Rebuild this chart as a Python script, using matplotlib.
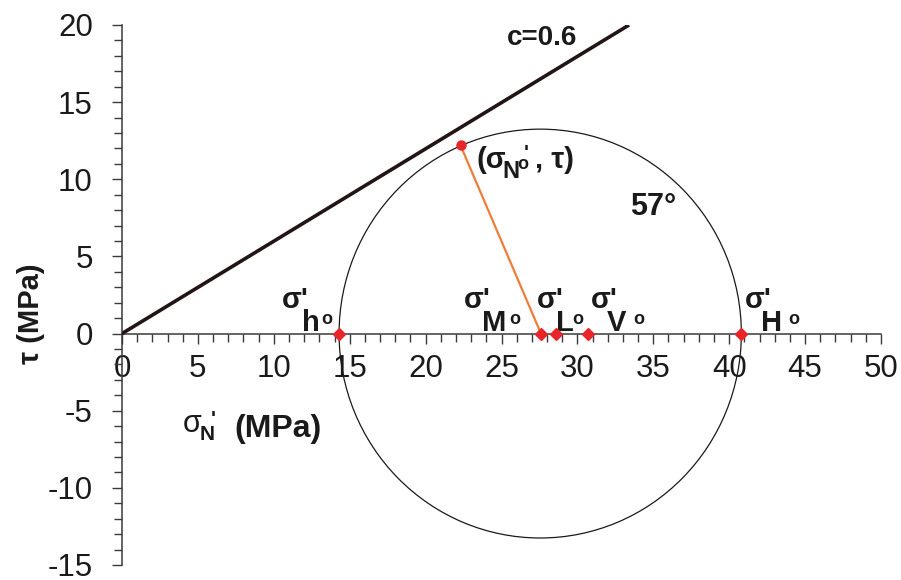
import matplotlib
matplotlib.use("Agg")
import matplotlib.pyplot as plt
from matplotlib.patches import Circle
from matplotlib.ticker import MultipleLocator

plt.rcParams['font.family'] = ['Liberation Sans', 'DejaVu Sans']
plt.rcParams['axes.unicode_minus'] = False

# ---- data ----
stress_names = ['h', 'M', 'L', 'V', 'H']
stress_values = [14.3, 27.6, 28.6, 30.7, 40.8]      # sigma' (MPa) on the tau = 0 axis
point_sigma = 22.3                                   # sigma'_N (MPa)
point_tau = 12.2                                     # tau (MPa)
friction_x = [0.0, 33.4]                             # c = 0.6 line
friction_y = [0.0, 20.0]
friction_label = 'c=0.6'
angle_label = '57°'
x_ticks = [0, 5, 10, 15, 20, 25, 30, 35, 40, 45, 50]
y_ticks = [-15, -10, -5, 0, 5, 10, 15, 20]

sigma_min = stress_values[0]
sigma_max = stress_values[-1]
sigma_mid = stress_values[1]

fig = plt.figure(figsize=(9.01, 5.80), dpi=100)
ax = fig.add_axes([122 / 901, 1 - 565 / 580, (881 - 122) / 901, (565 - 25) / 580])
ax.set_xlim(0, 50)
ax.set_ylim(-15, 20)

spine_col = '#3a3a3a'
for s in ['top', 'right']:
    ax.spines[s].set_visible(False)
ax.spines['left'].set_position(('data', 0))
ax.spines['bottom'].set_position(('data', 0))
for s in ['left', 'bottom']:
    ax.spines[s].set_linewidth(1.1)
    ax.spines[s].set_color(spine_col)

ax.set_xticks(x_ticks)
ax.set_yticks(y_ticks)
ax.xaxis.set_minor_locator(MultipleLocator(1))
ax.yaxis.set_minor_locator(MultipleLocator(1))
ax.tick_params(axis='both', which='major', direction='out', length=7.5, width=1.0,
               color=spine_col, labelsize=22.5, labelcolor='#1a1a1a')
ax.tick_params(axis='both', which='minor', direction='out', length=5.5, width=1.0,
               color=spine_col)
ax.tick_params(axis='y', which='major', pad=13.5)
ax.tick_params(axis='x', which='major', pad=7)

# friction line
ax.plot(friction_x, friction_y, color='#231416', lw=2.6, solid_capstyle='butt', zorder=3)

# Mohr circle
circ = Circle(((sigma_min + sigma_max) / 2, 0), (sigma_max - sigma_min) / 2,
              fill=False, ec='#1a1a1a', lw=0.9, zorder=2)
ax.add_patch(circ)

# orange radius line
ax.plot([point_sigma, sigma_mid], [point_tau, 0], color='#f07c3a', lw=1.6, zorder=3)

# markers
ax.plot(stress_values, [0] * len(stress_values), ls='none', marker='D', ms=6.5,
        color='#e8262a', mec='#e8262a', zorder=5, clip_on=False)
ax.plot([point_sigma], [point_tau], ls='none', marker='o', ms=6.5,
        color='#e8262a', mec='#e8262a', zorder=5)

PX = 0.72  # points per pixel
txt_col = '#1a1a1a'

# labels for the axis points: (sigma' dx, sub dx, o dx) in pixels relative to marker
label_offsets = {
    'h': (-57, -37, -18),
    'M': (-77, -59, -32),
    'L': (-19, 0, 16),
    'V': (3, 19, 45),
    'H': (4, 20, 47),
}
for name, val in zip(stress_names, stress_values):
    dxs, dxl, dxo = label_offsets[name]
    ax.annotate("σ'", xy=(val, 0), xytext=(dxs * PX, 26 * PX),
                textcoords='offset points', ha='left', va='baseline',
                fontsize=21, fontweight='bold', color=txt_col)
    ax.annotate(name, xy=(val, 0), xytext=(dxl * PX, 3 * PX),
                textcoords='offset points', ha='left', va='baseline',
                fontsize=21, fontweight='bold', color=txt_col)
    ax.annotate('o', xy=(val, 0), xytext=(dxo * PX, 10 * PX),
                textcoords='offset points', ha='left', va='baseline',
                fontsize=13, fontweight='bold', color=txt_col)

# label for the (sigma_N, tau) point
pt = (point_sigma, point_tau)
ax.annotate("(σ", xy=pt, xytext=(16 * PX, -23 * PX), textcoords='offset points',
            ha='left', va='baseline', fontsize=21, fontweight='bold', color=txt_col)
ax.annotate('N', xy=pt, xytext=(42 * PX, -33 * PX), textcoords='offset points',
            ha='left', va='baseline', fontsize=17, fontweight='bold', color=txt_col)
ax.annotate('o', xy=pt, xytext=(57 * PX, -24 * PX), textcoords='offset points',
            ha='left', va='baseline', fontsize=13, fontweight='bold', color=txt_col)
ax.annotate("'", xy=pt, xytext=(63 * PX, -14 * PX), textcoords='offset points',
            ha='left', va='baseline', fontsize=15, fontweight='bold', color=txt_col)
ax.annotate(", τ)", xy=pt, xytext=(74 * PX, -23 * PX), textcoords='offset points',
            ha='left', va='baseline', fontsize=21, fontweight='bold', color=txt_col)

# c=0.6 and angle labels
ax.text(25.36, 18.7, friction_label, fontsize=20, fontweight='bold', color=txt_col,
        ha='left', va='baseline')
ax.text(33.5, 7.7, angle_label, fontsize=22, fontweight='bold', color=txt_col,
        ha='left', va='baseline')

# axis labels
ax.set_ylabel("τ (MPa)", fontsize=21, fontweight='bold', color=txt_col)
ax.yaxis.set_label_coords((45 - 122) / 759, (565 - 314) / 540)

origin = (0, 0)
ax.annotate("σ", xy=origin, xytext=((183 - 122) * PX, (334 - 432) * PX),
            textcoords='offset points', ha='left', va='baseline',
            fontsize=22, color=txt_col, annotation_clip=False)
ax.annotate("N", xy=origin, xytext=((200 - 122) * PX, (334 - 440) * PX),
            textcoords='offset points', ha='left', va='baseline',
            fontsize=15, fontweight='bold', color=txt_col, annotation_clip=False)
ax.annotate("'", xy=origin, xytext=((211 - 122) * PX, (334 - 425) * PX),
            textcoords='offset points', ha='left', va='baseline',
            fontsize=15, fontweight='bold', color=txt_col, annotation_clip=False)
ax.annotate("(MPa)", xy=origin, xytext=((234 - 122) * PX, (334 - 437) * PX),
            textcoords='offset points', ha='left', va='baseline',
            fontsize=23, fontweight='bold', color=txt_col, annotation_clip=False)

fig.savefig('out.png', dpi=100)
